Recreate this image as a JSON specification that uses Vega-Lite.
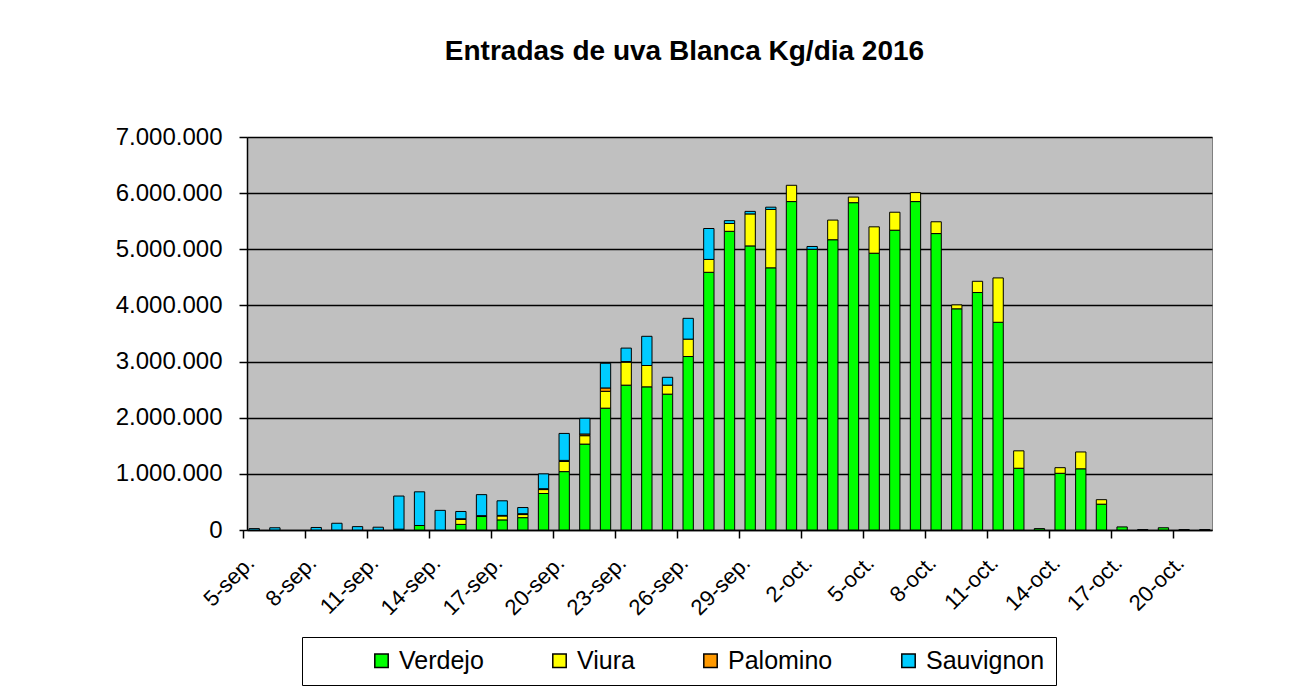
{
  "$schema": "https://vega.github.io/schema/vega-lite/v6.json",
  "autosize": "none",
  "width": 965,
  "height": 393,
  "padding": {"left": 247, "top": 137, "right": 95, "bottom": 157},
  "background": "#ffffff",
  "title": {
    "text": "Entradas de uva Blanca Kg/dia 2016",
    "fontSize": 28,
    "fontWeight": "bold",
    "font": "Liberation Sans",
    "color": "#000000",
    "anchor": "middle",
    "baseline": "alphabetic",
    "dx": -45,
    "offset": 37
  },
  "config": {
    "font": "Liberation Sans",
    "locale": {"number": {"decimal": ",", "thousands": ".", "grouping": [3], "currency": ["", " €"]}},
    "view": {"fill": "#C0C0C0", "stroke": "#808080", "strokeWidth": 1},
    "axis": {"domainColor": "#000000", "tickColor": "#000000", "labelColor": "#000000", "titleColor": "#000000"}
  },
  "data": {
    "values": [
      {"dia": "5-sep.", "variedad": "Sauvignon", "kg": 25000, "orden": 4},
      {"dia": "6-sep.", "variedad": "Sauvignon", "kg": 40000, "orden": 4},
      {"dia": "8-sep.", "variedad": "Sauvignon", "kg": 45000, "orden": 4},
      {"dia": "9-sep.", "variedad": "Sauvignon", "kg": 120000, "orden": 4},
      {"dia": "10-sep.", "variedad": "Sauvignon", "kg": 60000, "orden": 4},
      {"dia": "11-sep.", "variedad": "Sauvignon", "kg": 50000, "orden": 4},
      {"dia": "12-sep.", "variedad": "Verdejo", "kg": 15000, "orden": 1},
      {"dia": "12-sep.", "variedad": "Sauvignon", "kg": 590000, "orden": 4},
      {"dia": "13-sep.", "variedad": "Verdejo", "kg": 80000, "orden": 1},
      {"dia": "13-sep.", "variedad": "Sauvignon", "kg": 600000, "orden": 4},
      {"dia": "14-sep.", "variedad": "Sauvignon", "kg": 350000, "orden": 4},
      {"dia": "15-sep.", "variedad": "Verdejo", "kg": 100000, "orden": 1},
      {"dia": "15-sep.", "variedad": "Viura", "kg": 90000, "orden": 2},
      {"dia": "15-sep.", "variedad": "Palomino", "kg": 10000, "orden": 3},
      {"dia": "15-sep.", "variedad": "Sauvignon", "kg": 130000, "orden": 4},
      {"dia": "16-sep.", "variedad": "Verdejo", "kg": 240000, "orden": 1},
      {"dia": "16-sep.", "variedad": "Palomino", "kg": 15000, "orden": 3},
      {"dia": "16-sep.", "variedad": "Sauvignon", "kg": 375000, "orden": 4},
      {"dia": "17-sep.", "variedad": "Verdejo", "kg": 180000, "orden": 1},
      {"dia": "17-sep.", "variedad": "Viura", "kg": 70000, "orden": 2},
      {"dia": "17-sep.", "variedad": "Palomino", "kg": 10000, "orden": 3},
      {"dia": "17-sep.", "variedad": "Sauvignon", "kg": 260000, "orden": 4},
      {"dia": "18-sep.", "variedad": "Verdejo", "kg": 220000, "orden": 1},
      {"dia": "18-sep.", "variedad": "Viura", "kg": 55000, "orden": 2},
      {"dia": "18-sep.", "variedad": "Palomino", "kg": 15000, "orden": 3},
      {"dia": "18-sep.", "variedad": "Sauvignon", "kg": 110000, "orden": 4},
      {"dia": "19-sep.", "variedad": "Verdejo", "kg": 650000, "orden": 1},
      {"dia": "19-sep.", "variedad": "Viura", "kg": 70000, "orden": 2},
      {"dia": "19-sep.", "variedad": "Palomino", "kg": 15000, "orden": 3},
      {"dia": "19-sep.", "variedad": "Sauvignon", "kg": 265000, "orden": 4},
      {"dia": "20-sep.", "variedad": "Verdejo", "kg": 1040000, "orden": 1},
      {"dia": "20-sep.", "variedad": "Viura", "kg": 180000, "orden": 2},
      {"dia": "20-sep.", "variedad": "Palomino", "kg": 20000, "orden": 3},
      {"dia": "20-sep.", "variedad": "Sauvignon", "kg": 480000, "orden": 4},
      {"dia": "21-sep.", "variedad": "Verdejo", "kg": 1530000, "orden": 1},
      {"dia": "21-sep.", "variedad": "Viura", "kg": 150000, "orden": 2},
      {"dia": "21-sep.", "variedad": "Palomino", "kg": 30000, "orden": 3},
      {"dia": "21-sep.", "variedad": "Sauvignon", "kg": 280000, "orden": 4},
      {"dia": "22-sep.", "variedad": "Verdejo", "kg": 2170000, "orden": 1},
      {"dia": "22-sep.", "variedad": "Viura", "kg": 300000, "orden": 2},
      {"dia": "22-sep.", "variedad": "Palomino", "kg": 60000, "orden": 3},
      {"dia": "22-sep.", "variedad": "Sauvignon", "kg": 440000, "orden": 4},
      {"dia": "23-sep.", "variedad": "Verdejo", "kg": 2580000, "orden": 1},
      {"dia": "23-sep.", "variedad": "Viura", "kg": 410000, "orden": 2},
      {"dia": "23-sep.", "variedad": "Palomino", "kg": 10000, "orden": 3},
      {"dia": "23-sep.", "variedad": "Sauvignon", "kg": 240000, "orden": 4},
      {"dia": "24-sep.", "variedad": "Verdejo", "kg": 2550000, "orden": 1},
      {"dia": "24-sep.", "variedad": "Viura", "kg": 380000, "orden": 2},
      {"dia": "24-sep.", "variedad": "Sauvignon", "kg": 520000, "orden": 4},
      {"dia": "25-sep.", "variedad": "Verdejo", "kg": 2420000, "orden": 1},
      {"dia": "25-sep.", "variedad": "Viura", "kg": 160000, "orden": 2},
      {"dia": "25-sep.", "variedad": "Sauvignon", "kg": 140000, "orden": 4},
      {"dia": "26-sep.", "variedad": "Verdejo", "kg": 3090000, "orden": 1},
      {"dia": "26-sep.", "variedad": "Viura", "kg": 310000, "orden": 2},
      {"dia": "26-sep.", "variedad": "Sauvignon", "kg": 370000, "orden": 4},
      {"dia": "27-sep.", "variedad": "Verdejo", "kg": 4590000, "orden": 1},
      {"dia": "27-sep.", "variedad": "Viura", "kg": 230000, "orden": 2},
      {"dia": "27-sep.", "variedad": "Sauvignon", "kg": 550000, "orden": 4},
      {"dia": "28-sep.", "variedad": "Verdejo", "kg": 5320000, "orden": 1},
      {"dia": "28-sep.", "variedad": "Viura", "kg": 140000, "orden": 2},
      {"dia": "28-sep.", "variedad": "Sauvignon", "kg": 50000, "orden": 4},
      {"dia": "29-sep.", "variedad": "Verdejo", "kg": 5060000, "orden": 1},
      {"dia": "29-sep.", "variedad": "Viura", "kg": 570000, "orden": 2},
      {"dia": "29-sep.", "variedad": "Sauvignon", "kg": 45000, "orden": 4},
      {"dia": "30-sep.", "variedad": "Verdejo", "kg": 4670000, "orden": 1},
      {"dia": "30-sep.", "variedad": "Viura", "kg": 1040000, "orden": 2},
      {"dia": "30-sep.", "variedad": "Sauvignon", "kg": 40000, "orden": 4},
      {"dia": "1-oct.", "variedad": "Verdejo", "kg": 5850000, "orden": 1},
      {"dia": "1-oct.", "variedad": "Viura", "kg": 290000, "orden": 2},
      {"dia": "2-oct.", "variedad": "Verdejo", "kg": 5000000, "orden": 1},
      {"dia": "2-oct.", "variedad": "Sauvignon", "kg": 50000, "orden": 4},
      {"dia": "3-oct.", "variedad": "Verdejo", "kg": 5170000, "orden": 1},
      {"dia": "3-oct.", "variedad": "Viura", "kg": 350000, "orden": 2},
      {"dia": "4-oct.", "variedad": "Verdejo", "kg": 5830000, "orden": 1},
      {"dia": "4-oct.", "variedad": "Viura", "kg": 100000, "orden": 2},
      {"dia": "5-oct.", "variedad": "Verdejo", "kg": 4930000, "orden": 1},
      {"dia": "5-oct.", "variedad": "Viura", "kg": 470000, "orden": 2},
      {"dia": "6-oct.", "variedad": "Verdejo", "kg": 5340000, "orden": 1},
      {"dia": "6-oct.", "variedad": "Viura", "kg": 320000, "orden": 2},
      {"dia": "7-oct.", "variedad": "Verdejo", "kg": 5850000, "orden": 1},
      {"dia": "7-oct.", "variedad": "Viura", "kg": 160000, "orden": 2},
      {"dia": "8-oct.", "variedad": "Verdejo", "kg": 5280000, "orden": 1},
      {"dia": "8-oct.", "variedad": "Viura", "kg": 210000, "orden": 2},
      {"dia": "9-oct.", "variedad": "Verdejo", "kg": 3940000, "orden": 1},
      {"dia": "9-oct.", "variedad": "Viura", "kg": 70000, "orden": 2},
      {"dia": "10-oct.", "variedad": "Verdejo", "kg": 4230000, "orden": 1},
      {"dia": "10-oct.", "variedad": "Viura", "kg": 200000, "orden": 2},
      {"dia": "11-oct.", "variedad": "Verdejo", "kg": 3700000, "orden": 1},
      {"dia": "11-oct.", "variedad": "Viura", "kg": 790000, "orden": 2},
      {"dia": "12-oct.", "variedad": "Verdejo", "kg": 1100000, "orden": 1},
      {"dia": "12-oct.", "variedad": "Viura", "kg": 310000, "orden": 2},
      {"dia": "13-oct.", "variedad": "Verdejo", "kg": 25000, "orden": 1},
      {"dia": "14-oct.", "variedad": "Verdejo", "kg": 1010000, "orden": 1},
      {"dia": "14-oct.", "variedad": "Viura", "kg": 100000, "orden": 2},
      {"dia": "15-oct.", "variedad": "Verdejo", "kg": 1090000, "orden": 1},
      {"dia": "15-oct.", "variedad": "Viura", "kg": 300000, "orden": 2},
      {"dia": "16-oct.", "variedad": "Verdejo", "kg": 460000, "orden": 1},
      {"dia": "16-oct.", "variedad": "Viura", "kg": 80000, "orden": 2},
      {"dia": "17-oct.", "variedad": "Verdejo", "kg": 55000, "orden": 1},
      {"dia": "18-oct.", "variedad": "Sauvignon", "kg": 8000, "orden": 4},
      {"dia": "19-oct.", "variedad": "Verdejo", "kg": 40000, "orden": 1},
      {"dia": "20-oct.", "variedad": "Sauvignon", "kg": 8000, "orden": 4},
      {"dia": "21-oct.", "variedad": "Sauvignon", "kg": 8000, "orden": 4}
    ]
  },
  "mark": {"type": "bar", "stroke": "#000000", "strokeWidth": 1},
  "encoding": {
    "x": {
      "field": "dia",
      "type": "ordinal",
      "scale": {
        "domain": ["5-sep.","6-sep.","7-sep.","8-sep.","9-sep.","10-sep.","11-sep.","12-sep.","13-sep.","14-sep.","15-sep.","16-sep.","17-sep.","18-sep.","19-sep.","20-sep.","21-sep.","22-sep.","23-sep.","24-sep.","25-sep.","26-sep.","27-sep.","28-sep.","29-sep.","30-sep.","1-oct.","2-oct.","3-oct.","4-oct.","5-oct.","6-oct.","7-oct.","8-oct.","9-oct.","10-oct.","11-oct.","12-oct.","13-oct.","14-oct.","15-oct.","16-oct.","17-oct.","18-oct.","19-oct.","20-oct.","21-oct."],
        "paddingInner": 0.5,
        "paddingOuter": 0.1
      },
      "axis": {
        "title": null,
        "values": ["5-sep.","8-sep.","11-sep.","14-sep.","17-sep.","20-sep.","23-sep.","26-sep.","29-sep.","2-oct.","5-oct.","8-oct.","11-oct.","14-oct.","17-oct.","20-oct."],
        "labelAngle": -45,
        "labelAlign": "right",
        "labelBaseline": "top",
        "labelFontSize": 22,
        "labelPadding": 14,
        "tickSize": 8,
        "tickOffset": -11,
        "labelOffset": 0,
        "domainWidth": 1.5,
        "tickWidth": 1.5,
        "grid": false
      }
    },
    "y": {
      "field": "kg",
      "type": "quantitative",
      "stack": "zero",
      "scale": {"domain": [0, 7000000], "nice": false},
      "axis": {
        "title": null,
        "values": [0, 1000000, 2000000, 3000000, 4000000, 5000000, 6000000, 7000000],
        "format": ",d",
        "labelFontSize": 24,
        "labelPadding": 17,
        "tickSize": 8,
        "tickWidth": 1.5,
        "domainWidth": 1.5,
        "grid": true,
        "gridColor": "#000000",
        "gridWidth": 1.5,
        "gridOpacity": 1
      }
    },
    "color": {
      "field": "variedad",
      "type": "nominal",
      "scale": {
        "domain": ["Verdejo", "Viura", "Palomino", "Sauvignon"],
        "range": ["#00FF00", "#FFFF00", "#FF9900", "#00CCFF"]
      },
      "legend": {
        "orient": "none",
        "legendX": 55,
        "legendY": 500,
        "direction": "horizontal",
        "title": " ",
        "titleOrient": "left",
        "titlePadding": 56,
        "titleFontSize": 25,
        "padding": 11,
        "fillColor": "#ffffff",
        "strokeColor": "#000000",
        "symbolType": "square",
        "symbolSize": 180,
        "symbolStrokeColor": "#000000",
        "symbolStrokeWidth": 1.5,
        "symbolOpacity": 1,
        "labelFontSize": 25,
        "labelColor": "#000000",
        "labelOffset": 5,
        "columnPadding": 63
      }
    },
    "order": {"field": "orden", "type": "quantitative", "sort": "ascending"}
  }
}
